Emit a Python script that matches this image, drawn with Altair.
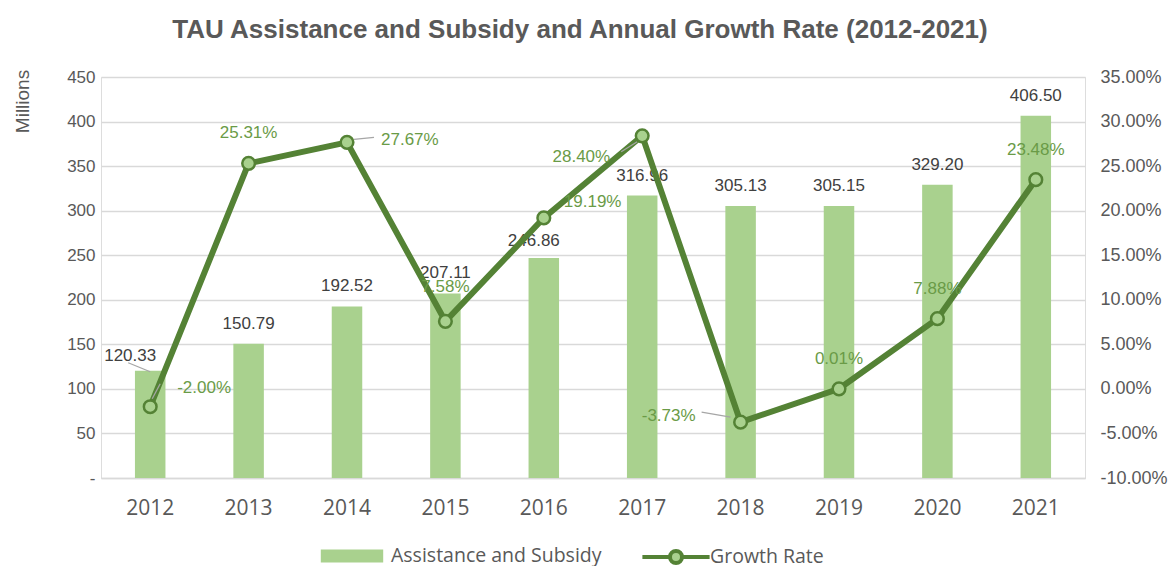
import altair as alt
import pandas as pd

years = ['2012', '2013', '2014', '2015', '2016', '2017', '2018', '2019', '2020', '2021']
subsidy = [120.33, 150.79, 192.52, 207.11, 246.86, 316.96, 305.13, 305.15, 329.20, 406.50]
growth = [-2.00, 25.31, 27.67, 7.58, 19.19, 28.40, -3.73, 0.01, 7.88, 23.48]
left_ticks = [0, 50, 100, 150, 200, 250, 300, 350, 400, 450]
right_ticks = [-10, -5, 0, 5, 10, 15, 20, 25, 30, 35]
series_names = ['Assistance and Subsidy', 'Growth Rate']

df = pd.DataFrame({'year': years, 'subsidy': subsidy, 'growth': growth})

LIGHT = '#A9D18E'
DARK = '#548235'
GLAB = '#6A9B47'
TXT = '#404040'
AX = '#595959'
GRID = '#D9D9D9'
LEAD = '#A6A6A6'
SANS = 'Liberation Sans'
UI = 'Open Sans'
PCT = "(datum.{f} < 0 ? '-' : '') + format(abs(datum.{f}), '.2f') + '%'"

base = alt.Chart(df)

x_main = alt.X('year:N', sort=years, title=None,
               scale=alt.Scale(paddingInner=0.69, paddingOuter=0.345),
               axis=alt.Axis(labelFont=UI, labelFontSize=21, labelColor=AX,
                             labelPadding=19, ticks=False, domainColor=GRID,
                             domainWidth=1.3, labelAngle=0, grid=False))
x_plain = alt.X('year:N', sort=years)

yL = alt.Y('subsidy:Q', title='Millions',
           scale=alt.Scale(domain=[0, 450], nice=False),
           axis=alt.Axis(values=left_ticks,
                         labelExpr="datum.value == 0 ? '-' : datum.label",
                         labelFont=SANS, labelFontSize=17, labelColor=AX,
                         labelPadding=6, ticks=False, domain=False,
                         grid=True, gridColor=GRID, gridWidth=1.3,
                         titleFont=SANS, titleFontSize=19, titleColor=AX,
                         titleFontWeight='normal', titleAngle=270,
                         titleX=-79, titleY=24, titleAlign='center',
                         titleBaseline='middle'))

yR = alt.Y('growth:Q', title=None,
           scale=alt.Scale(domain=[-10, 35], nice=False, zero=False),
           axis=alt.Axis(orient='right', values=right_ticks,
                         labelExpr=PCT.format(f='value'),
                         labelFont=SANS, labelFontSize=18, labelColor=AX,
                         labelPadding=15, ticks=False, domain=False, grid=False))
yR_plain = alt.Y('growth:Q')
yL_plain = alt.Y('subsidy:Q')

# ---------- bars (left axis) ----------
bars = base.mark_bar().transform_calculate(
    series="'Assistance and Subsidy'"
).encode(
    x=x_main, y=yL,
    fill=alt.Fill('series:N',
                  scale=alt.Scale(domain=[series_names[0]], range=[LIGHT]),
                  legend=alt.Legend(orient='none', legendX=238, legendY=466,
                                    title=None, padding=0,
                                    symbolType='M-2.4,-0.5L2.4,-0.5L2.4,0.5L-2.4,0.5Z',
                                    symbolSize=676, symbolStrokeWidth=0,
                                    labelFont=UI, labelFontSize=19.5, labelLimit=400,
                                    labelColor=AX, labelOffset=26)),
)

def bar_label(sel, dx, dy):
    return base.mark_text(font=SANS, fontSize=17, color=TXT, dx=dx, dy=dy,
                          baseline='middle', align='center').encode(
        x=x_plain, y=yL_plain, text=alt.Text('subsidy:Q', format='.2f')
    ).transform_filter(alt.FieldOneOfPredicate(field='year', oneOf=sel))

bar_labels = [
    bar_label(['2013', '2014', '2015', '2017', '2018', '2019', '2020', '2021'], 0, -20),
    bar_label(['2016'], -10, -17),
    bar_label(['2012'], -20, -15),
]

def leader(sel, yfield, x0, y0, x1, y1):
    return base.mark_rule(color=LEAD, strokeWidth=1.3, xOffset=x0, yOffset=y0,
                          x2Offset=x1, y2Offset=y1).encode(
        x=alt.X('year:N', sort=years, bandPosition=0.5),
        x2=alt.X2('year:N', bandPosition=0.5),
        y=alt.Y(f'{yfield}:Q'), y2=alt.Y2(f'{yfield}:Q'),
    ).transform_filter(alt.FieldOneOfPredicate(field='year', oneOf=sel))

left_group = alt.layer(bars, *bar_labels, leader(['2012'], 'subsidy', -22, -8, 0, 1))

# ---------- growth line (right axis) ----------
line = base.mark_line(color=DARK, strokeWidth=6).encode(x=x_plain, y=yR)

points = base.mark_point(shape='circle', filled=False, fill=LIGHT, fillOpacity=1,
                         strokeWidth=2.5, size=160, opacity=1).transform_calculate(
    series="'Growth Rate'"
).encode(
    x=x_plain, y=yR_plain,
    stroke=alt.Stroke('series:N',
                      scale=alt.Scale(domain=[series_names[1]], range=[DARK]),
                      legend=alt.Legend(orient='none', legendX=561, legendY=466,
                                        title=None, padding=0,
                                        symbolType='M-2.8,0L-0.5,0A0.5,0.5,0,1,1,0.5,0L2.8,0M0.5,0A0.5,0.5,0,1,1,-0.5,0',
                                        symbolSize=576, symbolStrokeWidth=4,
                                        symbolFillColor=LIGHT,
                                        labelFont=UI, labelFontSize=19.5, labelLimit=400,
                                        labelColor=AX, labelOffset=20)),
)

def g_label(sel, dx, dy, align):
    return base.mark_text(font=SANS, fontSize=17, color=GLAB, dx=dx, dy=dy,
                          baseline='middle', align=align).transform_calculate(
        glab=PCT.format(f='growth')
    ).encode(x=x_plain, y=yR_plain, text='glab:N').transform_filter(
        alt.FieldOneOfPredicate(field='year', oneOf=sel))

g_labels = [
    g_label(['2013', '2019', '2020', '2021'], 0, -30, 'center'),
    g_label(['2015'], 0, -34, 'center'),
    g_label(['2012'], 27, -19, 'left'),
    g_label(['2014'], 34, -2, 'left'),
    g_label(['2016'], 20, -16, 'left'),
    g_label(['2017'], -32, 21, 'right'),
    g_label(['2018'], -45, -6, 'right'),
]

g_leaders = [
    leader(['2012'], 'growth', 2, -8, 10, -23),
    leader(['2014'], 'growth', 7, -3, 27, -5),
    leader(['2017'], 'growth', -21, 16, -5, 6),
    leader(['2018'], 'growth', -39, -10, -10, -5),
]

right_group = alt.layer(line, *g_leaders, points, *g_labels)

chart = alt.layer(left_group, right_group).resolve_scale(
    y='independent', fill='independent', stroke='independent'
).properties(
    width=984, height=401,
    padding={'left': 93, 'top': 69, 'right': 83, 'bottom': 88},
    autosize=alt.AutoSizeParams(type='none'),
    title=alt.TitleParams('TAU Assistance and Subsidy and Annual Growth Rate (2012-2021)',
                          font=SANS, fontSize=26, fontWeight='bold', color=AX,
                          anchor='middle', offset=4, dx=-13, baseline='alphabetic'),
).configure_view(stroke=None).configure(background='white')

chart.save('out.html', embed_options={'renderer': 'svg', 'actions': False})
